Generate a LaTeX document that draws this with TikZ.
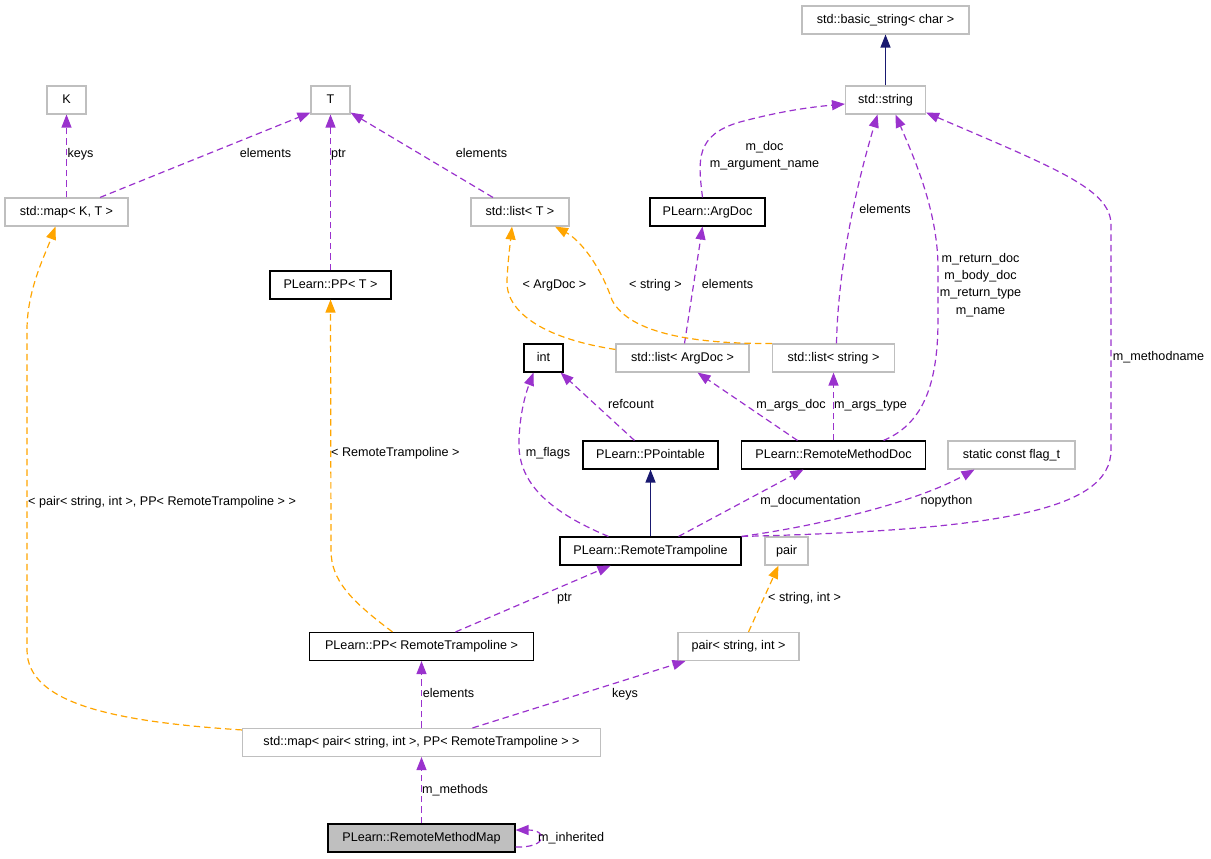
\documentclass[tikz,border=0pt]{standalone}
\usepackage{fontspec}
\setmainfont{Liberation Sans}
\usetikzlibrary{arrows.meta}
\definecolor{pur}{HTML}{9A32CD}
\definecolor{org}{HTML}{FFA500}
\definecolor{nav}{HTML}{191970}
\definecolor{gbd}{HTML}{BFBFBF}
\begin{document}
\begin{tikzpicture}[x=1pt,y=-1pt,
  font=\fontsize{12.6}{14}\selectfont,
  box/.style={draw, line width=1.1pt, minimum height=28pt, inner sep=0pt, text height=9pt, text depth=2.6pt},
  bbox/.style={box, draw=black},
  gbox/.style={box, draw=gbd},
  lbl/.style={inner sep=0pt, text height=9pt, text depth=2.6pt},
  mlbl/.style={inner sep=0pt, align=center},
  tip/.style={-{Triangle[length=13pt,width=10pt]}},
  use/.style={tip, draw=pur, line width=1.2pt, dash pattern=on 6.5pt off 4pt},
  tmpl/.style={tip, draw=org, line width=1.2pt, dash pattern=on 6.5pt off 4pt},
  inh/.style={tip, draw=nav, line width=1.2pt}
]
\useasboundingbox (0,0) rectangle (1211,859);
% nodes
\node[gbox, minimum width=39pt]  (K)      at (66.5,100) {K};
\node[gbox, minimum width=39pt]  (T)      at (330.5,100) {T};
\node[gbox, minimum width=123pt] (mapKT)  at (66.5,212) {std::map< K, T >};
\node[bbox, minimum width=121pt] (ppT)    at (330.5,285) {PLearn::PP< T >};
\node[gbox, minimum width=98pt]  (listT)  at (520,212) {std::list< T >};
\node[bbox, minimum width=115pt] (argdoc) at (707.5,212) {PLearn::ArgDoc};
\node[gbox, minimum width=167pt] (bstr)   at (885.5,20) {std::basic\_string< char >};
\node[gbox, minimum width=80pt]  (str)    at (885.5,100) {std::string};
\node[bbox, minimum width=39pt]  (int)    at (543.5,358) {int};
\node[gbox, minimum width=133pt] (listArg) at (682.5,358) {std::list< ArgDoc >};
\node[gbox, minimum width=122pt] (listStr) at (833.5,358) {std::list< string >};
\node[bbox, minimum width=135pt] (pptbl)  at (650.5,455) {PLearn::PPointable};
\node[bbox, minimum width=184pt] (rmd)    at (833.5,455) {PLearn::RemoteMethodDoc};
\node[gbox, minimum width=127pt] (flag)   at (1011.5,455) {static const flag\_t};
\node[bbox, minimum width=181pt] (rt)     at (650.5,551) {PLearn::RemoteTrampoline};
\node[gbox, minimum width=43pt]  (pair)   at (786.5,551) {pair};
\node[bbox, minimum width=224pt] (pprt)   at (421.5,646.5) {PLearn::PP< RemoteTrampoline >};
\node[gbox, minimum width=121pt] (psi)    at (738.5,646.5) {pair< string, int >};
\node[gbox, minimum width=358pt] (mappair) at (421.5,742.5) {std::map< pair< string, int >, PP< RemoteTrampoline > >};
\node[bbox, minimum width=187pt, fill=gbd] (rmm) at (421.5,838) {PLearn::RemoteMethodMap};
% inheritance
\draw[inh] (str.north) -- (bstr.south);
\draw[inh] (rt.north) -- (pptbl.south);
% usage
\draw[use] (mapKT.north) -- (K.south);
\draw[use] ([xshift=33.5pt]mapKT.north) -- ([yshift=2pt]T.south west);
\draw[use] (ppT.north) -- (T.south);
\draw[use] ([xshift=-27pt]listT.north) -- ([yshift=2pt]T.south east);
\draw[use] ([xshift=-5pt]argdoc.north) .. controls (698,160) and (695,135) .. (740,122) .. controls (770,114) and (800,108) .. ([yshift=-4pt]str.west);
\draw[use] ([xshift=3pt]listStr.north) .. controls (838,270) and (855,190) .. ([xshift=-8pt]str.south);
\draw[use] ([xshift=50pt]rmd.north) .. controls (920,425) and (938,390) .. (938,320) -- (938,265) .. controls (937,210) and (915,160) .. ([xshift=10pt]str.south);
\draw[use] (rt.north east) .. controls (1000,530) and (1111,510) .. (1111,450) -- (1111,225) .. controls (1111,190) and (1060,170) .. ([yshift=2pt]str.south east);
\draw[use] ([xshift=2pt]listArg.north) -- ([xshift=-5pt]argdoc.south);
\draw[use] ([xshift=-16pt]pptbl.north) -- ([xshift=-3pt]int.south east);
\draw[use] ([xshift=-36pt]rmd.north) -- ([xshift=15pt]listArg.south);
\draw[use] (rmd.north) -- (listStr.south);
\draw[use] ([xshift=-42pt]rt.north) .. controls (545,510) and (517,480) .. (519,440) .. controls (520,410) and (527,390) .. ([xshift=-10pt]int.south);
\draw[use] ([xshift=28pt]rt.north) -- ([xshift=-30pt]rmd.south);
\draw[use] (rt.north east) .. controls (830,524) and (920,500) .. ([xshift=-37pt]flag.south);
\draw[use] ([xshift=34pt]pprt.north) -- ([xshift=-40pt]rt.south);
\draw[use] (mappair.north) -- (pprt.south);
\draw[use] ([xshift=51pt]mappair.north) -- ([xshift=-53pt]psi.south);
\draw[use] (rmm.north) -- (mappair.south);
\draw[use] ([yshift=-9pt]rmm.east) .. controls (548,848) and (548,830) .. ([yshift=8pt]rmm.east);
% templates
\draw[tmpl] ([yshift=-6pt]listArg.north west) .. controls (540,338) and (505,310) .. (507,280) .. controls (508,260) and (510,245) .. ([xshift=-8pt]listT.south);
\draw[tmpl] (listStr.north west) .. controls (700,344) and (630,335) .. (612,300) .. controls (600,265) and (580,240) .. ([xshift=35pt]listT.south);
\draw[tmpl] ([xshift=-29pt]pprt.north) .. controls (350,600) and (331,580) .. (331,550) -- (ppT.south);
\draw[tmpl] ([yshift=-2pt]mappair.north west) .. controls (120,722) and (27,705) .. (27,650) -- (27,330) .. controls (27,290) and (45,255) .. ([xshift=-11pt]mapKT.south);
\draw[tmpl] ([xshift=10pt]psi.north) -- ([xshift=-8pt]pair.south);
% labels
\node[lbl] (l1) at (80.5,154) {keys};
\node[lbl] (l2) at (265.5,154) {elements};
\node[lbl] (l3) at (338.5,154) {ptr};
\node[lbl] (l4) at (481.5,154) {elements};
\node[mlbl, font=\fontsize{12.6}{17}\selectfont] (l5) at (764.5,156) {m\_doc\\m\_argument\_name};
\node[lbl] (l6) at (885,210) {elements};
\node[mlbl, font=\fontsize{12.6}{17.3}\selectfont] (l7) at (980.5,285) {m\_return\_doc\\m\_body\_doc\\m\_return\_type\\m\_name};
\node[lbl] (l8) at (554.5,285) {< ArgDoc >};
\node[lbl] (l9) at (655.5,285) {< string >};
\node[lbl] (l10) at (727.5,285) {elements};
\node[lbl] (l11) at (1158.5,357) {m\_methodname};
\node[lbl] (l12) at (631,405) {refcount};
\node[lbl] (l13) at (791,405) {m\_args\_doc};
\node[lbl] (l14) at (870.5,405) {m\_args\_type};
\node[lbl] (l15) at (548,453) {m\_flags};
\node[lbl, anchor=west] (l16) at (331,453) {< RemoteTrampoline >};
\node[lbl, anchor=west] (l17) at (28,502) {< pair< string, int >, PP< RemoteTrampoline > >};
\node[lbl] (l18) at (810.5,501) {m\_documentation};
\node[lbl] (l19) at (946.5,501) {nopython};
\node[lbl] (l20) at (564.5,598) {ptr};
\node[lbl, anchor=west] (l21) at (768,598) {< string, int >};
\node[lbl] (l22) at (448.5,694) {elements};
\node[lbl] (l23) at (625,694) {keys};
\node[lbl] (l24) at (455,790) {m\_methods};
\node[lbl, anchor=west] (l25) at (538,838) {m\_inherited};
\end{tikzpicture}
\end{document}
